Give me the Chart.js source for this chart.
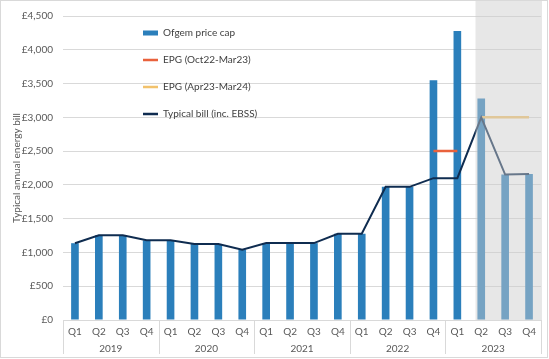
<!DOCTYPE html>
<html><head><meta charset="utf-8">
<script src="https://cdn.jsdelivr.net/npm/chart.js@4/dist/chart.umd.min.js"></script>
<style>html,body{margin:0;padding:0;background:#fff;}#wrap{position:relative;width:549px;height:359px;}</style>
</head><body><div id="wrap"><canvas id="c" width="549" height="359"></canvas></div>
<script>
const quarterLabels = ['Q1','Q2','Q3','Q4','Q1','Q2','Q3','Q4','Q1','Q2','Q3','Q4','Q1','Q2','Q3','Q4','Q1','Q2','Q3','Q4'];
const years = ['2019','2020','2021','2022','2023'];
const quartersPerYear = 4;
const priceCap = [1137,1254,1254,1179,1179,1126,1126,1042,1138,1138,1138,1277,1277,1971,1971,3549,4279,3280,2153,2162];
const epgOct22Mar23 = [null,null,null,null,null,null,null,null,null,null,null,null,null,null,null,2500,2500,null,null,null];
const epgApr23Mar24 = [null,null,null,null,null,null,null,null,null,null,null,null,null,null,null,null,null,3000,3000,3000];
const typicalBill = [1137,1254,1254,1179,1179,1126,1126,1042,1138,1138,1138,1277,1277,1971,1971,2100,2100,3000,2153,2162];
const forecastStartIndex = 17;
const seriesNames = ['Ofgem price cap','EPG (Oct22-Mar23)','EPG (Apr23-Mar24)','Typical bill (inc. EBSS)'];
const yAxisTitle = 'Typical annual energy bill';

const FONT = 'Lato, "Liberation Sans", sans-serif';
const C_BAR = '#2b7fbb', C_RED = '#e9623c', C_YEL = '#f2c26c', C_NAVY = '#0f2c50';
const legendColors = [C_BAR, C_RED, C_YEL, C_NAVY];

const legendPlacer = {
  id: 'legendPlacer',
  beforeLayout(chart) {
    const lg = chart.legend;
    if (lg && !lg.__patched) {
      lg.__patched = true;
      const fit = lg.fit;
      lg.fit = function () { fit.call(this); this.__w = this.width; this.__h = this.height; this.width = 0; this.height = 0; };
    }
  },
  afterLayout(chart) {
    const lg = chart.legend; if (!lg) return;
    const pad = lg.options.labels.padding;
    lg.left = 143 - pad; lg.top = 28 - pad;
    lg.width = lg.__w; lg.height = lg.__h;
    lg.right = lg.left + lg.width; lg.bottom = lg.top + lg.height;
  }
};

const forecastShade = {
  id: 'forecastShade',
  afterDatasetsDraw(chart) {
    const {ctx, chartArea, scales: {x}} = chart;
    const step = x.getPixelForValue(1) - x.getPixelForValue(0);
    const left = x.getPixelForValue(forecastStartIndex) - step * 0.24;
    ctx.save();
    ctx.fillStyle = 'rgba(204,204,204,0.47)';
    ctx.fillRect(left, 1, chartArea.right + 1 - left, chartArea.bottom - 1);
    ctx.restore();
  }
};

const yearAxis = {
  id: 'yearAxis',
  afterDraw(chart) {
    const {ctx, chartArea, scales: {x}} = chart;
    ctx.save();
    ctx.strokeStyle = '#d9d9d9'; ctx.lineWidth = 1;
    for (let g = 0; g <= years.length; g++) {
      const px = Math.round(x.getPixelForValue(g * quartersPerYear - 0.5)) + 0.5;
      ctx.beginPath(); ctx.moveTo(px, chartArea.bottom); ctx.lineTo(px, chartArea.bottom + 34); ctx.stroke();
    }
    ctx.fillStyle = '#595959'; ctx.font = '10px ' + FONT; ctx.textAlign = 'center'; ctx.textBaseline = 'middle';
    years.forEach((yr, g) => {
      const cx = x.getPixelForValue(g * quartersPerYear + (quartersPerYear - 1) / 2);
      ctx.fillText(yr, cx, chartArea.bottom + 29);
    });
    ctx.strokeRect(0.5, 0.5, chart.width - 2, chart.height - 2);
    ctx.restore();
  }
};

new Chart(document.getElementById('c'), {
  data: {
    labels: quarterLabels,
    datasets: [
      {type: 'bar', label: seriesNames[0], data: priceCap, backgroundColor: C_BAR, borderWidth: 0,
       categoryPercentage: 1, barPercentage: 0.32, order: 4},
      {type: 'line', label: seriesNames[1], data: epgOct22Mar23, borderColor: C_RED, borderWidth: 2.5,
       pointRadius: 0, spanGaps: false, order: 3},
      {type: 'line', label: seriesNames[2], data: epgApr23Mar24, borderColor: C_YEL, borderWidth: 2.5,
       pointRadius: 0, spanGaps: false, order: 2},
      {type: 'line', label: seriesNames[3], data: typicalBill, borderColor: C_NAVY, borderWidth: 2,
       pointRadius: 0, tension: 0, order: 1}
    ]
  },
  options: {
    responsive: false, animation: false, devicePixelRatio: 1,
    layout: {padding: {top: 10, right: 8, bottom: 0, left: 0}},
    plugins: {
      tooltip: {enabled: false},
      legend: {
        position: 'left', align: 'start',
        labels: {
          usePointStyle: true, pointStyleWidth: 15, boxHeight: 5, padding: 17,
          color: '#404040', font: {family: FONT, size: 10},
          generateLabels(chart) {
            return chart.data.datasets.map((ds, i) => ({
              text: ds.label, datasetIndex: i, hidden: false,
              fillStyle: legendColors[i], strokeStyle: legendColors[i],
              lineWidth: ds.type === 'bar' ? 0 : 2.5,
              pointStyle: ds.type === 'bar' ? 'rect' : 'line', fontColor: '#404040'
            }));
          }
        }
      }
    },
    scales: {
      x: {
        grid: {display: false, drawTicks: false},
        border: {display: true, color: '#d9d9d9'},
        ticks: {color: '#595959', font: {family: FONT, size: 10}, padding: 6, maxRotation: 0, autoSkip: false},
        afterFit(s) { s.height = 39; }
      },
      y: {
        min: 0, max: 4500,
        grid: {color: '#d9d9d9', drawTicks: false},
        border: {display: false},
        ticks: {stepSize: 500, padding: 10, color: '#595959', font: {family: FONT, size: 10},
                callback: v => '£' + v.toLocaleString('en-GB')},
        title: {display: true, text: yAxisTitle, color: '#595959', font: {family: FONT, size: 10}, padding: {top: 11, bottom: 0}},
        afterFit(s) { s.width = 63; }
      }
    }
  },
  plugins: [legendPlacer, forecastShade, yearAxis]
});
</script></body></html>
